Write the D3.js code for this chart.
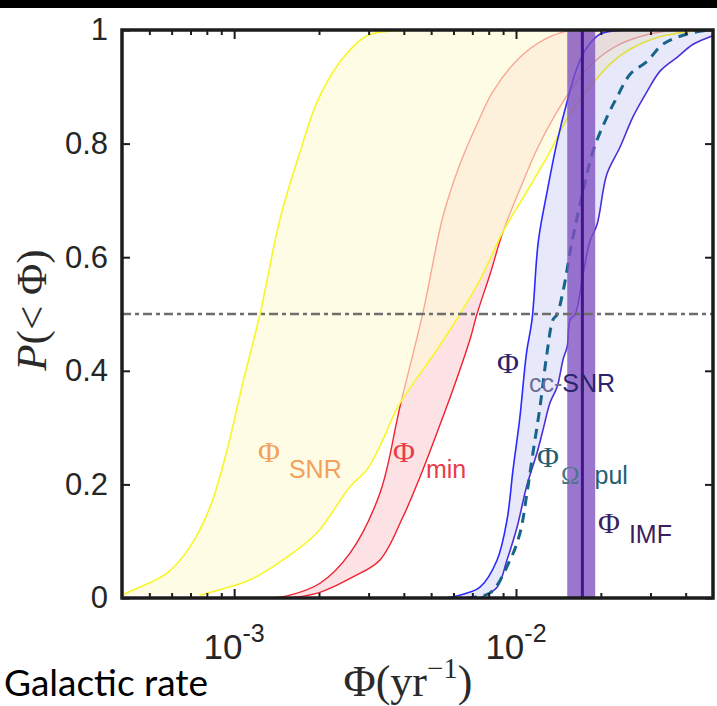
<!DOCTYPE html>
<html><head><meta charset="utf-8">
<script src="https://cdn.jsdelivr.net/npm/d3@7"></script>
<style>body{margin:0;background:#fff;}svg{display:block;}</style>
</head><body>
<svg id="c" width="717" height="706"></svg>
<script>
// ---------- data (Φ in yr^-1, cumulative probability P) ----------
const snrLowPhi = [4.0e-4, 4.38e-4, 5.78e-4, 6.97e-4, 8.21e-4, 9.43e-4, 1.075e-3, 1.235e-3, 1.454e-3, 1.712e-3, 1.968e-3, 2.375e-3, 2.96e-3, 3.57e-3, 4.5e-3, 5.0e-2];
const snrLowP   = [0.005, 0.014, 0.044, 0.09, 0.16, 0.26, 0.38, 0.50, 0.667, 0.785, 0.873, 0.944, 0.99, 0.998, 1.0, 1.0];
const snrHighPhi = [7.56e-4, 1.138e-3, 1.49e-3, 1.968e-3, 2.576e-3, 2.96e-3, 3.374e-3, 3.814e-3, 5.244e-3, 6.328e-3, 7.451e-3, 8.993e-3, 1.094e-2, 1.288e-2, 1.517e-2, 1.831e-2, 2.156e-2, 2.538e-2, 3.242e-2, 4.246e-2, 5.0e-2];
const snrHighP   = [0.005, 0.032, 0.067, 0.115, 0.196, 0.226, 0.279, 0.337, 0.437, 0.50, 0.56, 0.645, 0.716, 0.776, 0.843, 0.90, 0.94, 0.966, 0.988, 0.998, 1.0];

const minLowPhi = [9.0e-4, 1.34e-3, 1.578e-3, 2.017e-3, 2.576e-3, 3.292e-3, 3.876e-3, 4.677e-3, 5.508e-3, 6.328e-3, 7.27e-3, 8.288e-3, 1.033e-2, 1.267e-2, 1.517e-2, 1.831e-2];
const minLowP   = [0, 0, 0.005, 0.026, 0.079, 0.185, 0.337, 0.503, 0.672, 0.764, 0.834, 0.892, 0.952, 0.984, 0.998, 1.0];
const minHighPhi = [1.578e-3, 2.017e-3, 2.64e-3, 3.292e-3, 3.973e-3, 4.564e-3, 5.244e-3, 5.976e-3, 6.866e-3, 7.27e-3, 8.088e-3, 8.993e-3, 1.033e-2, 1.187e-2, 1.375e-2, 1.62e-2, 1.907e-2, 2.339e-2, 2.988e-2, 3.818e-2, 5.0e-2];
const minHighP   = [0, 0.01, 0.037, 0.067, 0.143, 0.213, 0.291, 0.367, 0.455, 0.50, 0.57, 0.645, 0.72, 0.79, 0.85, 0.905, 0.945, 0.975, 0.993, 1.0, 1.0];

const ccLowPhi = [5.5e-3, 6.32e-3, 7.45e-3, 8.57e-3, 9.29e-3, 9.76e-3, 1.03e-2, 1.09e-2, 1.14e-2, 1.20e-2, 1.29e-2, 1.40e-2, 1.52e-2, 1.65e-2, 1.79e-2, 1.99e-2, 2.48e-2, 5.0e-2];
const ccLowP   = [0, 0.005, 0.019, 0.067, 0.137, 0.226, 0.314, 0.432, 0.49, 0.628, 0.716, 0.804, 0.875, 0.935, 0.970, 0.993, 1.0, 1.0];
const ccHighPhi = [7.45e-3, 8.57e-3, 9.29e-3, 1.009e-2, 1.09e-2, 1.188e-2, 1.247e-2, 1.321e-2, 1.40e-2, 1.469e-2, 1.52e-2, 1.556e-2, 1.62e-2, 1.73e-2, 1.83e-2, 1.94e-2, 2.10e-2, 2.34e-2, 2.60e-2, 2.92e-2, 3.25e-2, 3.73e-2, 4.25e-2, 4.88e-2, 5.0e-2];
const ccHighP   = [0, 0.019, 0.067, 0.125, 0.196, 0.256, 0.296, 0.344, 0.372, 0.42, 0.443, 0.49, 0.499, 0.570, 0.628, 0.658, 0.746, 0.794, 0.847, 0.892, 0.928, 0.952, 0.975, 0.988, 0.99];

const pulPhi = [6.70e-3, 8.09e-3, 9.53e-3, 1.034e-2, 1.094e-2, 1.149e-2, 1.217e-2, 1.289e-2, 1.353e-2, 1.398e-2, 1.469e-2, 1.581e-2, 1.729e-2, 1.877e-2, 2.104e-2, 2.284e-2, 2.54e-2, 2.92e-2, 3.32e-2, 4.05e-2, 4.88e-2];
const pulP   = [0, 0.009, 0.067, 0.115, 0.185, 0.256, 0.337, 0.432, 0.49, 0.499, 0.54, 0.628, 0.716, 0.787, 0.847, 0.882, 0.922, 0.945, 0.975, 0.993, 1.0];

const imfPhi = 1.72e-2;
const imfRange = [1.52e-2, 1.91e-2];
const medianP = 0.5;

const xDomain = [4e-4, 5e-2];
const xMajor = [1e-3, 1e-2];
const xMajorLabels = [["10", "-3"], ["10", "-2"]];
const xMinor = [5e-4, 6e-4, 7e-4, 8e-4, 9e-4, 2e-3, 3e-3, 4e-3, 5e-3, 6e-3, 7e-3, 8e-3, 9e-3, 2e-2, 3e-2, 4e-2];
const yTicks = [0, 0.2, 0.4, 0.6, 0.8, 1];
const yTickLabels = ["0", "0.2", "0.4", "0.6", "0.8", "1"];

const labelNames = ["SNR", "min", "cc-SNR", "Ωpul", "IMF"];
const labelPhi = [1.215e-3, 3.66e-3, 8.56e-3, 1.187e-2, 1.954e-2];
const labelP = [0.239, 0.239, 0.396, 0.231, 0.1144];

// ---------- layout ----------
const svg = d3.select("#c");
const L = 122, R = 713, T = 30, B = 598;
const x = d3.scaleLog().domain(xDomain).range([L, R]);
const y = d3.scaleLinear().domain([0, 1]).range([B, T]);

svg.append("rect").attr("x", 0).attr("y", 0).attr("width", 717).attr("height", 8).attr("fill", "#000");

svg.append("defs").append("clipPath").attr("id", "clip")
  .append("rect").attr("x", L).attr("y", T).attr("width", R - L).attr("height", B - T);
const plot = svg.append("g").attr("clip-path", "url(#clip)");

const zip = (a, b) => a.map((v, i) => [v, b[i]]);
const line = d3.line().x(d => x(d[0])).y(d => y(d[1])).curve(d3.curveCatmullRom.alpha(0.5));
function band(lo, hi) {
  const a = line(lo);
  const b = line(hi.slice().reverse());
  return a + "L" + b.slice(1) + "Z";
}

const snrLo = zip(snrLowPhi, snrLowP), snrHi = zip(snrHighPhi, snrHighP);
const minLo = zip(minLowPhi, minLowP), minHi = zip(minHighPhi, minHighP);
const ccLo = zip(ccLowPhi, ccLowP), ccHi = zip(ccHighPhi, ccHighP);
const pul = zip(pulPhi, pulP);

// red (Φ_min) band
plot.append("path").attr("d", band(minLo, minHi)).attr("fill", "#f4a0a8").attr("fill-opacity", 0.3);
plot.append("path").attr("d", line(minLo)).attr("fill", "none").attr("stroke", "#f0202e").attr("stroke-width", 1.4);
plot.append("path").attr("d", line(minHi)).attr("fill", "none").attr("stroke", "#f0202e").attr("stroke-width", 1.4);

// yellow (Φ_SNR) band, drawn on top
plot.append("path").attr("d", band(snrLo, snrHi)).attr("fill", "#fffad6").attr("fill-opacity", 0.62);
plot.append("path").attr("d", line(snrLo)).attr("fill", "none").attr("stroke", "#f6f628").attr("stroke-width", 1.6);
plot.append("path").attr("d", line(snrHi)).attr("fill", "none").attr("stroke", "#f6f628").attr("stroke-width", 1.6);

// blue (Φ_cc-SNR) band
plot.append("path").attr("d", band(ccLo, ccHi)).attr("fill", "#5050e0").attr("fill-opacity", 0.13);
plot.append("path").attr("d", line(ccLo)).attr("fill", "none").attr("stroke", "#2a2aff").attr("stroke-width", 1.6);
plot.append("path").attr("d", line(ccHi)).attr("fill", "none").attr("stroke", "#4a30d8").attr("stroke-width", 1.6);

// pulsar dashed
plot.append("path").attr("d", line(pul)).attr("fill", "none").attr("stroke", "#17648a")
  .attr("stroke-width", 3).attr("stroke-dasharray", "10,7");

// IMF band
plot.append("rect").attr("x", x(imfRange[0])).attr("y", T).attr("width", x(imfRange[1]) - x(imfRange[0]))
  .attr("height", B - T).attr("fill", "#7e4fc0").attr("fill-opacity", 0.78);
plot.append("line").attr("x1", x(imfPhi)).attr("x2", x(imfPhi)).attr("y1", T).attr("y2", B)
  .attr("stroke", "#46148f").attr("stroke-width", 3);

// median line
plot.append("line").attr("x1", L).attr("x2", R).attr("y1", y(medianP)).attr("y2", y(medianP))
  .attr("stroke", "#6e6e6e").attr("stroke-width", 2.5).attr("stroke-dasharray", "9,4,4,4");

// ---------- labels ----------
const serif = "'Liberation Serif','DejaVu Serif',serif";
const sans = "'Liberation Sans',Arial,sans-serif";
const labStyle = [
  {c: "#f2a05a", sc: "#f2a05a", dx: 9, dy: 16},
  {c: "#e83c48", sc: "#e83c48", dx: 11, dy: 16},
  {c: "#2b2370", sc: "#2b2370", dx: 10, dy: 19},
  {c: "#225e73", sc: "#225e73", dx: 2, dy: 17},
  {c: "#3c1e5c", sc: "#3c1e5c", dx: 9, dy: 10}
];
labelNames.forEach((nm, i) => {
  const s = labStyle[i];
  const t = svg.append("text").attr("x", x(labelPhi[i])).attr("y", y(labelP[i]))
    .attr("font-family", serif).attr("font-size", 30).attr("fill", s.c);
  t.append("tspan").text("Φ");
  if (nm === "cc-SNR") {
    t.append("tspan").attr("dx", s.dx).attr("dy", s.dy).attr("font-family", sans).attr("font-size", 25).attr("fill", "#6e6e96").text("cc-");
    t.append("tspan").attr("font-family", sans).attr("font-size", 25).attr("fill", s.sc).text("SNR");
  } else if (nm === "Ωpul") {
    t.append("tspan").attr("dx", s.dx).attr("dy", s.dy).attr("font-size", 25).attr("fill", "#4a7688").text("Ω");
    t.append("tspan").attr("dx", 15).attr("font-family", sans).attr("font-size", 25).attr("fill", s.sc).text("pul");
  } else {
    t.append("tspan").attr("dx", s.dx).attr("dy", s.dy).attr("font-family", sans).attr("font-size", 25).attr("fill", s.sc).text(nm);
  }
});

// ---------- axes ----------
const axCol = "#1c1c1c";
function styleAxis(g) {
  g.select(".domain").remove();
  g.selectAll(".tick line").attr("stroke", axCol).attr("stroke-width", 2);
  g.selectAll("text").attr("font-family", sans).attr("font-size", 31).attr("fill", "#262626");
}
svg.append("g").attr("transform", `translate(0,${B})`).call(d3.axisBottom(x).tickValues(xMajor).tickSize(-9).tickFormat("")).call(styleAxis);
svg.append("g").attr("transform", `translate(0,${B})`).call(d3.axisBottom(x).tickValues(xMinor).tickSize(-5).tickFormat("")).call(styleAxis);
svg.append("g").attr("transform", `translate(0,${T})`).call(d3.axisTop(x).tickValues(xMajor).tickSize(-9).tickFormat("")).call(styleAxis);
svg.append("g").attr("transform", `translate(0,${T})`).call(d3.axisTop(x).tickValues(xMinor).tickSize(-5).tickFormat("")).call(styleAxis);
svg.append("g").attr("transform", `translate(${L},0)`)
  .call(d3.axisLeft(y).tickValues(yTicks).tickSize(-8).tickPadding(14).tickFormat((d, i) => yTickLabels[i])).call(styleAxis);
svg.append("g").attr("transform", `translate(${R},0)`).call(d3.axisRight(y).tickValues(yTicks).tickSize(-8).tickFormat("")).call(styleAxis);

// x major labels with superscripts
xMajor.forEach((v, i) => {
  const t = svg.append("text").attr("x", x(v)).attr("y", 659).attr("text-anchor", "middle")
    .attr("font-family", sans).attr("font-size", 35).attr("fill", "#262626");
  t.append("tspan").text(xMajorLabels[i][0]);
  t.append("tspan").attr("dy", -17).attr("font-size", 25).text(xMajorLabels[i][1]);
});

// frame
svg.append("rect").attr("x", L).attr("y", T).attr("width", R - L).attr("height", B - T)
  .attr("fill", "none").attr("stroke", axCol).attr("stroke-width", 3.5);

// axis titles
const xt = svg.append("text").attr("x", 408).attr("y", 696).attr("text-anchor", "middle")
  .attr("font-family", serif).attr("font-size", 44).attr("fill", "#2a2a2a");
xt.append("tspan").text("Φ(yr");
xt.append("tspan").attr("dy", -18).attr("font-size", 29).text("−1");
xt.append("tspan").attr("dy", 18).text(")");

const yt = svg.append("text").attr("transform", "translate(46,310) rotate(-90)").attr("text-anchor", "middle")
  .attr("font-family", serif).attr("font-size", 43).attr("fill", "#2a2a2a");
yt.append("tspan").attr("font-style", "italic").text("P");
yt.append("tspan").text("(< Φ)");

svg.append("text").attr("x", 4).attr("y", 696).attr("font-family", "Lato,'Open Sans',sans-serif")
  .attr("font-size", 37).attr("fill", "#000").text("Galactic rate");
</script>
</body></html>
